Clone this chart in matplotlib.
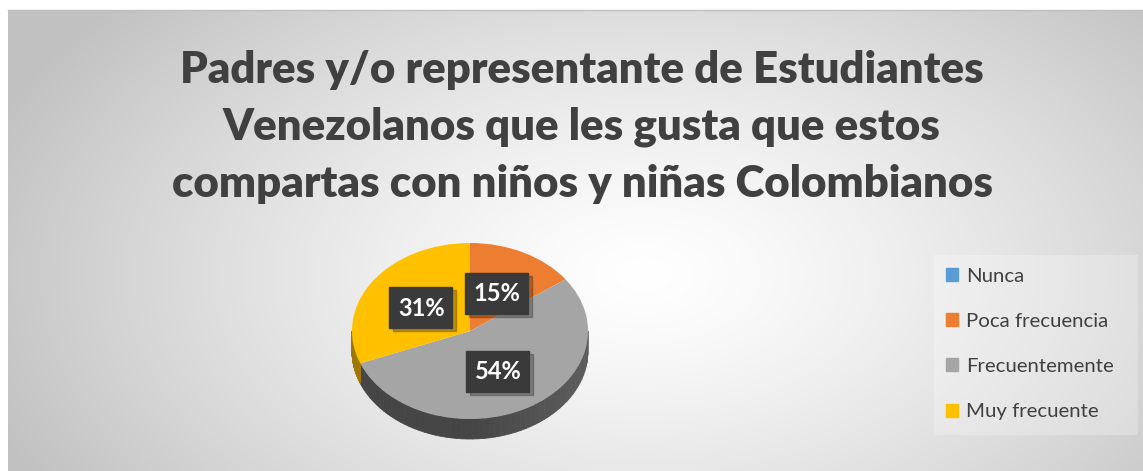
import matplotlib.pyplot as plt
import numpy as np
from matplotlib.transforms import Affine2D
from matplotlib.patches import Rectangle

categorias = ["Nunca", "Poca frecuencia", "Frecuentemente", "Muy frecuente"]
valores = [0, 15, 54, 31]
etiquetas = ["0%", "15%", "54%", "31%"]
colores = ["#5b9bd5", "#ed7d31", "#a5a5a5", "#ffc000"]
lados = ["#2f5f8f", "#9a4d18", "#454545", "#a07800"]
titulo = "Padres y/o representante de Estudiantes\nVenezolanos que les gusta que estos\ncompartas con niños y niñas Colombianos"

W, H = 1143, 471
fig = plt.figure(figsize=(W / 100, H / 100), dpi=100)
fig.patch.set_facecolor("white")

ax = fig.add_axes([0, 0, 1, 1])
ax.set_xlim(0, W)
ax.set_ylim(H, 0)
ax.axis("off")

# fondo con degradado radial
yy, xx = np.mgrid[0:H, 0:W]
d = np.sqrt(((xx - 640) / 700.0) ** 2 + ((yy - 270) / 420.0) ** 2)
d = np.clip(d, 0, 1)
g = 1.0 - 0.24 * d ** 1.3
img = np.dstack([g, g, g])
ax.imshow(img, extent=[8, W, H, 10], zorder=0, aspect="auto")
ax.plot([8, W], [10, 10], color="#bfbfbf", lw=1, zorder=1)

cx, cy, rx, ry, prof = 470, 331, 118, 88, 20

# lateral del pastel (mitad frontal)
total = float(sum(valores))
ini = 0.0
for v, c in zip(valores, lados):
    a1 = 90 - 360 * (ini + v) / total
    a2 = 90 - 360 * ini / total
    ini += v
    lo, hi = max(a1, -180), min(a2, 0)
    if v == 0 or lo >= hi:
        continue
    ts = np.linspace(lo, hi, 60)
    base = np.array(plt.matplotlib.colors.to_rgb(c))
    for t0, t1 in zip(ts[:-1], ts[1:]):
        tt = np.radians([t0, t1])
        xs = cx + rx * np.cos(tt)
        ys = cy - ry * np.sin(tt)
        f = 1.0 + 0.35 * max(np.cos(np.radians((t0 + t1) / 2)), 0)
        col = np.clip(base * f, 0, 1)
        ax.fill([xs[0], xs[1], xs[1], xs[0]], [ys[0], ys[1], ys[1] + prof, ys[0] + prof],
                color=col, lw=0.6, ec=col, zorder=2)

# cara superior
wedges, _ = ax.pie(valores, colors=colores, startangle=90, counterclock=False,
                   frame=True, wedgeprops=dict(lw=0))
tr = Affine2D().scale(rx, -ry).translate(cx, cy) + ax.transData
for w in wedges:
    w.set_transform(tr)
    w.set_zorder(3)
ax.set_xlim(0, W)
ax.set_ylim(H, 0)
ax.set_aspect("auto")

# etiquetas de datos
ini = 0.0
for v, e in zip(valores, etiquetas):
    m = np.radians(90 - 360 * (ini + v / 2) / total)
    ini += v
    if v == 0:
        continue
    x = cx + 0.5 * rx * np.cos(m)
    y = cy - 0.5 * ry * np.sin(m) + 1
    ax.add_patch(Rectangle((x - 31 + 3, y - 20 + 3), 63, 41, color="#000000", alpha=0.25, zorder=4))
    ax.add_patch(Rectangle((x - 32, y - 20), 63, 41, color="#3a3a3a", zorder=5))
    ax.text(x, y + 1, e, color="white", fontsize=17, fontweight="bold", family="Lato",
            ha="center", va="center", zorder=6)

fig.text(582 / W, 1 - 127 / H, titulo, ha="center", va="center", fontsize=31.5, fontweight="heavy",
         family="Lato", color="#404040", linespacing=1.52)

# leyenda
ax.add_patch(Rectangle((934, 255), 204, 180, color="#ffffff", alpha=0.25, lw=0, zorder=1))
handles = [Rectangle((0, 0), 1, 1, color=c) for c in colores]
leg = fig.legend(handles, categorias, loc="center left", bbox_to_anchor=(946 / W, 1 - 344 / H),
                 frameon=False, prop=dict(family="Lato", size=14.7), handlelength=0.6,
                 handleheight=0.6, handletextpad=0.4, labelspacing=1.38, labelcolor="#404040",
                 borderpad=0, borderaxespad=0)

fig.savefig("out.png", dpi=100)
